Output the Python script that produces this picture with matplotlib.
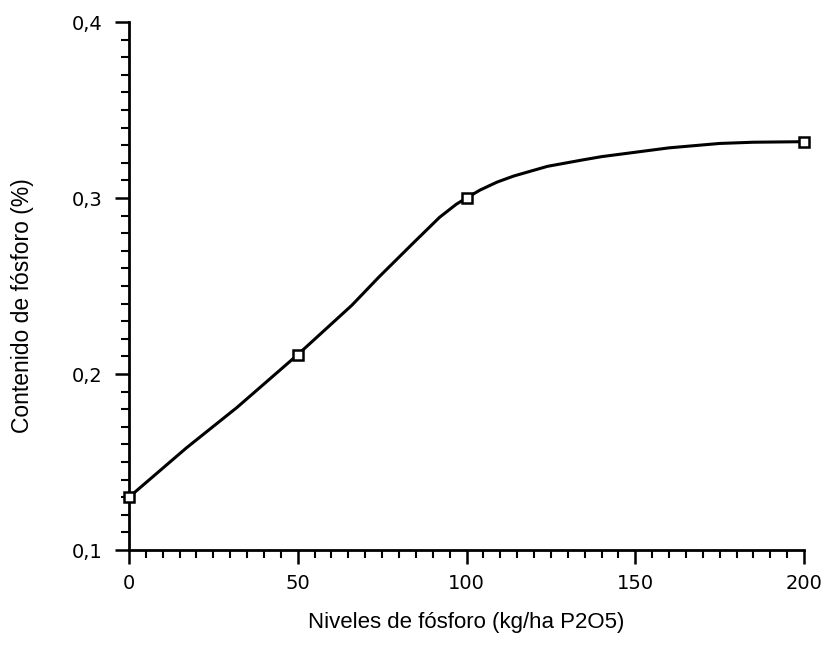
import matplotlib
matplotlib.use("Agg")
import matplotlib.pyplot as plt
from matplotlib.ticker import MultipleLocator

# measured points (markers)
dose = [0, 50, 100, 200]
fosforo = [0.13, 0.211, 0.300, 0.332]

# fitted curve
curve_x = [0, 17, 32, 50, 66, 74, 84, 92, 97, 100, 104, 109, 114, 124, 134, 140,
           150, 160, 175, 185, 200]
curve_y = [0.130, 0.158, 0.181, 0.211, 0.239, 0.255, 0.274, 0.289, 0.2965, 0.300,
           0.3045, 0.3090, 0.3125, 0.3180, 0.3215, 0.3235, 0.326, 0.3285, 0.331,
           0.3317, 0.332]

x_ticks = [0, 50, 100, 150, 200]
y_ticks = [0.1, 0.2, 0.3, 0.4]
y_labels = ["0,1", "0,2", "0,3", "0,4"]

fig = plt.figure(figsize=(8.30, 6.61), dpi=100)
ax = fig.add_axes([0.1554, 0.1679, 0.8133, 0.7988])

ax.plot(curve_x, curve_y, color="black", lw=2.2, solid_capstyle="round",
        solid_joinstyle="round", zorder=2)
ax.plot(dose, fosforo, linestyle="none", marker="s", ms=7, mfc="white",
        mec="black", mew=1.8, zorder=3, clip_on=False)

ax.set_xlim(0, 200)
ax.set_ylim(0.1, 0.4)
ax.set_xticks(x_ticks)
ax.set_xticklabels([str(t) for t in x_ticks])
ax.set_yticks(y_ticks)
ax.set_yticklabels(y_labels)
ax.xaxis.set_minor_locator(MultipleLocator(5))
ax.yaxis.set_minor_locator(MultipleLocator(0.01))

for s in ["top", "right"]:
    ax.spines[s].set_visible(False)
for s in ["left", "bottom"]:
    ax.spines[s].set_linewidth(2)

ax.tick_params(which="major", direction="out", length=10, width=1.8,
               labelsize=14, pad=7)
ax.tick_params(which="minor", direction="out", length=5.5, width=1.5)
ax.tick_params(axis="y", which="major", pad=9)
for lab in ax.get_xticklabels() + ax.get_yticklabels():
    lab.set_family("DejaVu Sans")

ax.set_xlabel("Niveles de fósforo (kg/ha P2O5)", family="Liberation Sans",
              fontsize=16, labelpad=14)
ax.set_ylabel("Contenido de fósforo (%)", family="Liberation Sans",
              fontsize=16.5)
ax.yaxis.set_label_coords(-0.14, 0.462)

fig.savefig("out.png", dpi=100)
